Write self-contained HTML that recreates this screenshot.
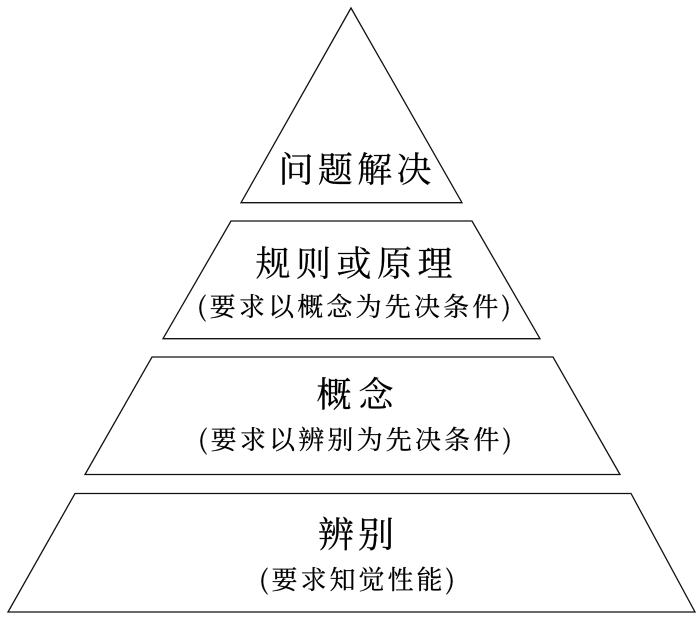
<!DOCTYPE html>
<html>
<head>
<meta charset="utf-8">
<style>
html,body{margin:0;padding:0;background:#fff;width:700px;height:617px;overflow:hidden}
svg{display:block}
text{font-family:"Noto Serif CJK SC","Liberation Serif",serif;fill:#000;stroke:#000;stroke-width:.25;text-anchor:middle}
polygon{fill:#fff;stroke:#111;stroke-width:1.3}
</style>
</head>
<body>
<svg width="700" height="617" viewBox="0 0 700 617" xmlns="http://www.w3.org/2000/svg">
<polygon points="351,8 462,202.7 241,202.7"/>
<polygon points="231,221 472,221 540,338.7 163,338.7"/>
<polygon points="152,357 553,357 620,474.5 85,474.5"/>
<polygon points="75,493.5 631,493.5 695,612 8,612"/>
<text x="355" y="182" font-size="35" textLength="153" lengthAdjust="spacing">问题解决</text>
<text x="354" y="276" font-size="35" textLength="197" lengthAdjust="spacing">规则或原理</text>
<text x="354" y="316" font-size="26" textLength="314" lengthAdjust="spacing">(要求以概念为先决条件)</text>
<text x="355" y="407" font-size="35" textLength="77" lengthAdjust="spacing">概念</text>
<text x="355" y="449" font-size="26" textLength="314" lengthAdjust="spacing">(要求以辨别为先决条件)</text>
<text x="356" y="547" font-size="36" textLength="76" lengthAdjust="spacing">辨别</text>
<text x="357" y="589" font-size="26" textLength="196" lengthAdjust="spacing">(要求知觉性能)</text>
</svg>
</body>
</html>
